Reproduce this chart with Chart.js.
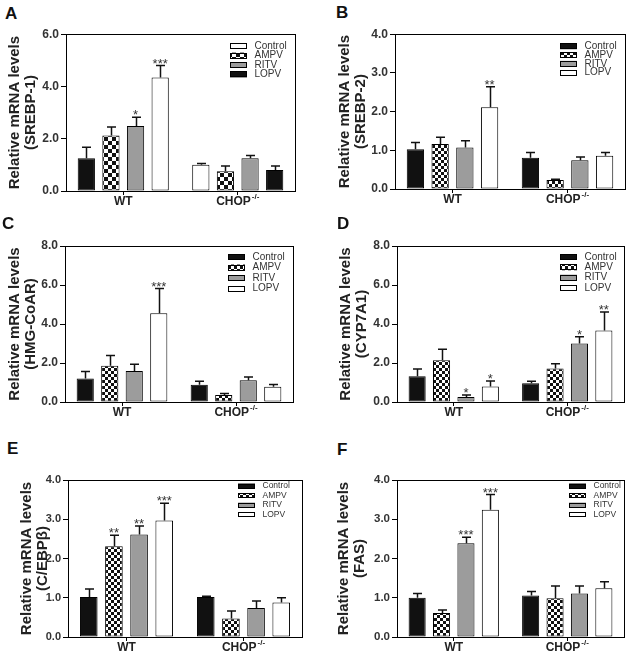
<!DOCTYPE html>
<html><head><meta charset="utf-8">
<script src="https://cdn.jsdelivr.net/npm/chart.js@4/dist/chart.umd.min.js"></script>
<style>
html,body{margin:0;padding:0;background:#fff;}
#wrap{position:relative;width:629px;height:659px;overflow:hidden;background:#fff;}
canvas{position:absolute;}
.letter{position:absolute;font:bold 17px "Liberation Sans",Arial,sans-serif;color:#111;line-height:17px;}
</style></head><body>
<div id="wrap"></div>
<script>
// ---------------- DATA ----------------
const categories = ['WT', 'CHOP-/-'];
const treatments = ['Control', 'AMPV', 'RITV', 'LOPV'];

// A: SREBP-1
const srebp1WT = [1.25, 2.12, 2.49, 4.34];
const srebp1CHOP = [1.00, 0.76, 1.25, 0.80];
const srebp1WTSem = [0.42, 0.33, 0.33, 0.46];
const srebp1CHOPSem = [0.05, 0.20, 0.11, 0.16];
const srebp1WTSig = ['', '', '*', '***'];
const srebp1CHOPSig = ['', '', '', ''];
const srebp1Ticks = [0, 2, 4, 6];

// B: SREBP-2
const srebp2WT = [1.03, 1.16, 1.07, 2.11];
const srebp2CHOP = [0.81, 0.23, 0.74, 0.86];
const srebp2WTSem = [0.17, 0.18, 0.18, 0.53];
const srebp2CHOPSem = [0.13, 0.02, 0.09, 0.08];
const srebp2WTSig = ['', '', '', '**'];
const srebp2CHOPSig = ['', '', '', ''];
const srebp2Ticks = [0, 1, 2, 3, 4];

// C: HMG-CoAR
const hmgWT = [1.20, 1.86, 1.59, 4.55];
const hmgCHOP = [0.89, 0.36, 1.11, 0.78];
const hmgWTSem = [0.36, 0.53, 0.34, 1.27];
const hmgCHOPSem = [0.17, 0.07, 0.17, 0.12];
const hmgWTSig = ['', '', '', '***'];
const hmgCHOPSig = ['', '', '', ''];
const hmgTicks = [0, 2, 4, 6, 8];

// D: CYP7A1
const cypWT = [1.32, 2.14, 0.26, 0.80];
const cypCHOP = [0.96, 1.72, 3.00, 3.67];
const cypWTSem = [0.37, 0.56, 0.10, 0.28];
const cypCHOPSem = [0.10, 0.24, 0.34, 0.95];
const cypWTSig = ['', '', '*', '*'];
const cypCHOPSig = ['', '', '*', '**'];
const cypTicks = [0, 2, 4, 6, 8];

// E: C/EBPβ
const cebpWT = [1.02, 2.31, 2.61, 2.97];
const cebpCHOP = [1.02, 0.47, 0.74, 0.88];
const cebpWTSem = [0.20, 0.28, 0.22, 0.44];
const cebpCHOPSem = [0.02, 0.19, 0.18, 0.12];
const cebpWTSig = ['', '**', '**', '***'];
const cebpCHOPSig = ['', '', '', ''];
const cebpTicks = [0, 1, 2, 3, 4];

// F: FAS
const fasWT = [1.00, 0.61, 2.39, 3.24];
const fasCHOP = [1.06, 0.99, 1.11, 1.24];
const fasWTSem = [0.11, 0.08, 0.15, 0.39];
const fasCHOPSem = [0.10, 0.31, 0.19, 0.17];
const fasWTSig = ['', '', '***', '***'];
const fasCHOPSig = ['', '', '', ''];
const fasTicks = [0, 1, 2, 3, 4];

// ---------------- STYLE ----------------
const FONT = '"Liberation Sans", Arial, Helvetica, sans-serif';
const BLACK = '#111111', GRAY = '#9c9c9c', WHITE = '#ffffff';

function checker(cell) {
  const c = document.createElement('canvas');
  c.width = cell * 2; c.height = cell * 2;
  const g = c.getContext('2d');
  g.fillStyle = '#fff'; g.fillRect(0, 0, cell * 2, cell * 2);
  g.fillStyle = '#111';
  g.fillRect(0, 0, cell, cell); g.fillRect(cell, cell, cell, cell);
  return g.createPattern(c, 'repeat');
}

const panels = [
  {letter:'A', lx:5, ly:8, gene:'(SREBP-1)', wt:srebp1WT, chop:srebp1CHOP, wtSem:srebp1WTSem, chopSem:srebp1CHOPSem, wtSig:srebp1WTSig, chopSig:srebp1CHOPSig, ticks:srebp1Ticks,
   box:{x:0,y:25,w:310,h:190}, area:{l:66,t:32,r:295,b:191}, leg:{dx:65,dy:12,gap:9.4,font:10,bh:6}, cell:4, tf:12, altA:true},
  {letter:'B', lx:336, ly:7, gene:'(SREBP-2)', wt:srebp2WT, chop:srebp2CHOP, wtSem:srebp2WTSem, chopSem:srebp2CHOPSem, wtSig:srebp2WTSig, chopSig:srebp2CHOPSig, ticks:srebp2Ticks,
   box:{x:330,y:25,w:299,h:190}, area:{l:395,t:32,r:625,b:189}, leg:{dx:65,dy:12,gap:8.8,font:10,bh:6}, cell:3, tf:12},
  {letter:'C', lx:2, ly:218, gene:'(HMG-CoAR)', wt:hmgWT, chop:hmgCHOP, wtSem:hmgWTSem, chopSem:hmgCHOPSem, wtSig:hmgWTSig, chopSig:hmgCHOPSig, ticks:hmgTicks,
   box:{x:0,y:236,w:310,h:190}, area:{l:65,t:246,r:293,b:402}, leg:{dx:65,dy:11,gap:10.5,font:10,bh:6}, cell:3, tf:12},
  {letter:'D', lx:337, ly:218, gene:'(CYP7A1)', wt:cypWT, chop:cypCHOP, wtSem:cypWTSem, chopSem:cypCHOPSem, wtSig:cypWTSig, chopSig:cypCHOPSig, ticks:cypTicks,
   box:{x:331,y:236,w:298,h:190}, area:{l:397,t:246,r:624,b:402}, leg:{dx:64,dy:11,gap:10.3,font:10,bh:6}, cell:3, tf:12},
  {letter:'E', lx:7, ly:443, gene:'(C/EBPβ)', wt:cebpWT, chop:cebpCHOP, wtSem:cebpWTSem, chopSem:cebpCHOPSem, wtSig:cebpWTSig, chopSig:cebpCHOPSig, ticks:cebpTicks,
   box:{x:12,y:465,w:306,h:194}, area:{l:68,t:480,r:302,b:637}, leg:{dx:64,dy:6,gap:9.5,font:8.5,bh:5}, cell:3, tf:11},
  {letter:'F', lx:337, ly:444, gene:'(FAS)', wt:fasWT, chop:fasCHOP, wtSem:fasWTSem, chopSem:fasCHOPSem, wtSig:fasWTSig, chopSig:fasCHOPSig, ticks:fasTicks,
   box:{x:329,y:465,w:300,h:194}, area:{l:397,t:480,r:624,b:637}, leg:{dx:55,dy:6,gap:9.5,font:8.5,bh:5}, cell:3, tf:11.5}
];

const wrap = document.getElementById('wrap');

panels.forEach(p => {
  const pat = checker(p.cell);
  const defFill = [BLACK, pat, GRAY, WHITE];
  const chopFill = p.altA ? [WHITE, pat, GRAY, BLACK] : defFill;
  const legFill = p.altA ? [WHITE, pat, GRAY, BLACK] : defFill;

  const letter = document.createElement('div');
  letter.className = 'letter';
  letter.textContent = p.letter;
  letter.style.left = p.lx + 'px';
  letter.style.top = (p.ly - 3) + 'px';

  const cv = document.createElement('canvas');
  cv.width = p.box.w; cv.height = p.box.h;
  cv.style.left = p.box.x + 'px'; cv.style.top = p.box.y + 'px';
  cv.style.width = p.box.w + 'px'; cv.style.height = p.box.h + 'px';
  wrap.appendChild(cv);
  wrap.appendChild(letter);

  const sems = [p.wtSem, p.chopSem];
  const sigs = [p.wtSig, p.chopSig];

  const datasets = treatments.map((t, i) => ({
    label: t,
    data: [p.wt[i], p.chop[i]],
    backgroundColor: [defFill[i], chopFill[i]],
    borderColor: '#000',
    borderWidth: 1,
    borderSkipped: false,
    categoryPercentage: 0.86,
    barPercentage: 0.7
  }));

  const extras = {
    id: 'extras' + p.letter,
    afterDatasetsDraw(chart) {
      const ctx = chart.ctx;
      const ys = chart.scales.y;
      ctx.save();
      chart.data.datasets.forEach((ds, di) => {
        const meta = chart.getDatasetMeta(di);
        meta.data.forEach((bar, ci) => {
          const top = ys.getPixelForValue(ds.data[ci] + sems[ci][di]);
          const x = Math.round(bar.x) + 0.5;
          ctx.strokeStyle = '#111';
          ctx.lineWidth = 1.5;
          ctx.beginPath();
          ctx.moveTo(x, bar.y);
          ctx.lineTo(x, top);
          ctx.moveTo(x - 4.5, top);
          ctx.lineTo(x + 4.5, top);
          ctx.stroke();
          const s = sigs[ci][di];
          if (s) {
            ctx.fillStyle = '#333';
            ctx.font = '13px ' + FONT;
            ctx.textAlign = 'center';
            ctx.textBaseline = 'alphabetic';
            ctx.fillText(s, bar.x, top + 2);
          }
        });
      });
      ctx.restore();
    },
    afterDraw(chart) {
      const ctx = chart.ctx;
      const a = chart.chartArea;
      ctx.save();
      // frame top/right
      ctx.strokeStyle = '#000';
      ctx.lineWidth = 1;
      ctx.strokeRect(Math.round(a.left) + 0.5, Math.round(a.top) + 0.5, Math.round(a.right - a.left), Math.round(a.bottom - a.top));
      // category labels with superscript
      const xs = chart.scales.x;
      categories.forEach((c, i) => {
        const x = xs.getPixelForValue(i);
        const y = a.bottom + 11;
        const m = c.match(/^([^-]+)(-\/-)?$/);
        const main = m ? m[1] : c;
        const sup = m && m[2] ? m[2] : '';
        ctx.fillStyle = '#222';
        ctx.textBaseline = 'middle';
        ctx.textAlign = 'left';
        ctx.font = 'bold 12px ' + FONT;
        const w1 = ctx.measureText(main).width;
        ctx.font = 'bold 8px ' + FONT;
        const w2 = sup ? ctx.measureText(sup).width + 1 : 0;
        const x0 = x - (w1 + w2) / 2;
        ctx.font = 'bold 12px ' + FONT;
        ctx.fillText(main, x0, y);
        if (sup) {
          ctx.font = 'bold 8px ' + FONT;
          ctx.fillText(sup, x0 + w1 + 1, y - 5);
        }
      });
      // legend
      const L = p.leg;
      const bx = a.right - L.dx;
      treatments.forEach((t, i) => {
        const cy = a.top + L.dy + i * L.gap;
        ctx.fillStyle = legFill[i];
        ctx.fillRect(bx, cy - L.bh / 2, 17, L.bh);
        ctx.strokeStyle = '#000';
        ctx.lineWidth = 1;
        ctx.strokeRect(Math.round(bx) + 0.5, Math.round(cy - L.bh / 2) + 0.5, 16, L.bh - 1);
        ctx.fillStyle = '#333';
        ctx.font = L.font + 'px ' + FONT;
        ctx.textAlign = 'left';
        ctx.textBaseline = 'middle';
        ctx.fillText(t, bx + 24.5, cy);
      });
      ctx.restore();
    }
  };

  const box = p.box, area = p.area;
  new Chart(cv, {
    type: 'bar',
    data: { labels: categories, datasets },
    options: {
      responsive: false,
      animation: false,
      devicePixelRatio: 1,
      layout: { padding: { left: 0, top: area.t - box.y, right: box.x + box.w - area.r, bottom: 0 } },
      plugins: { legend: { display: false }, tooltip: { enabled: false }, title: { display: false } },
      scales: {
        x: {
          type: 'category',
          offset: true,
          grid: { display: true, drawOnChartArea: false, offset: false, tickLength: 4, color: '#000', lineWidth: 1 },
          border: { display: true, color: '#000', width: 1 },
          ticks: { display: false },
          afterFit: s => { s.height = box.y + box.h - area.b; }
        },
        y: {
          min: 0,
          max: p.ticks[p.ticks.length - 1],
          afterBuildTicks: s => { s.ticks = p.ticks.map(v => ({ value: v })); },
          grid: { drawOnChartArea: false, tickLength: 5, color: '#000', lineWidth: 1 },
          border: { display: true, color: '#000', width: 1 },
          ticks: { font: { family: FONT, size: p.tf, weight: 'bold' }, color: '#333', padding: 2, callback: v => Number(v).toFixed(1) },
          title: { display: true, text: ['Relative mRNA levels', p.gene], font: { family: FONT, size: 15, weight: 'bold', lineHeight: 1.05 }, color: '#222', padding: { top: 7, bottom: 0 } },
          afterFit: s => { s.width = area.l - box.x; }
        }
      }
    },
    plugins: [extras]
  });
});
</script>
</body></html>
